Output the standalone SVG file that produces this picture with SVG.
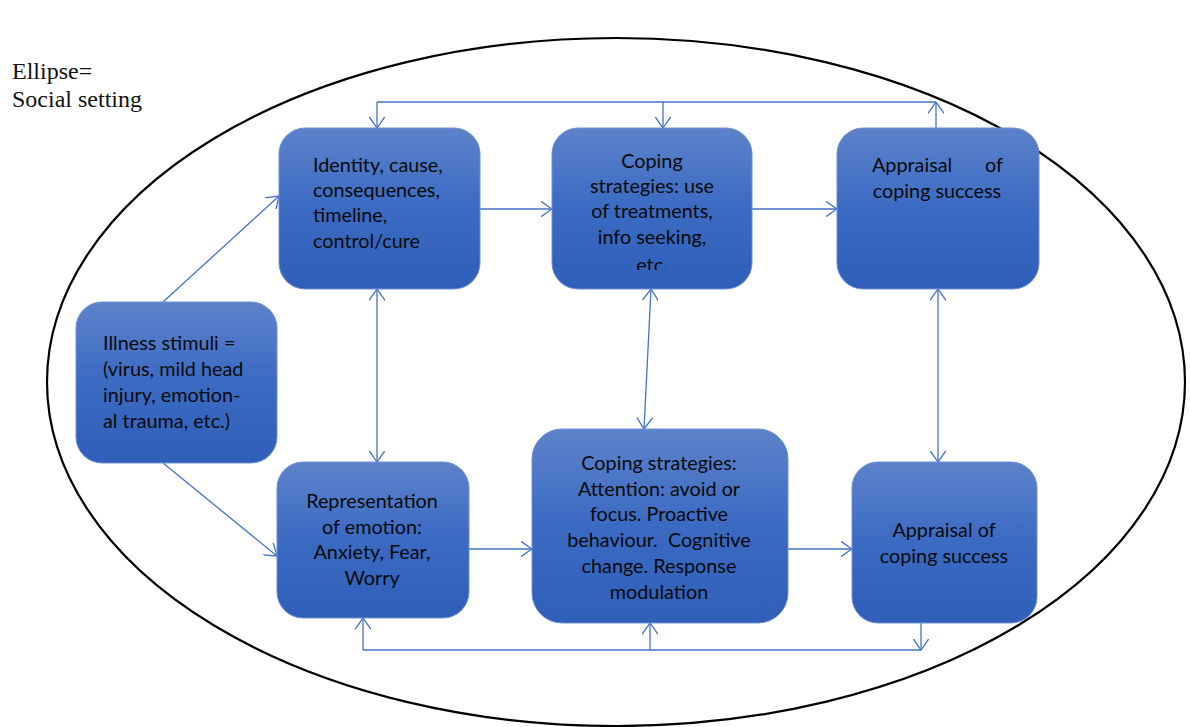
<svg xmlns="http://www.w3.org/2000/svg" width="1190" height="727" viewBox="0 0 1190 727">
<defs>
<linearGradient id="bg" x1="0" y1="0" x2="0" y2="1">
<stop offset="0" stop-color="#5d82ca"/>
<stop offset="0.5" stop-color="#3b6ac3"/>
<stop offset="1" stop-color="#2f5fb8"/>
</linearGradient>
<marker id="ah" viewBox="0 0 12 16" refX="11.5" refY="8" markerWidth="12" markerHeight="16" markerUnits="userSpaceOnUse" orient="auto-start-reverse">
<path d="M0,0 L11.5,8 L0,16" fill="none" stroke="#4472c4" stroke-width="1.3"/>
</marker>
<clipPath id="clip2"><rect x="552" y="128" width="200" height="142"/></clipPath>
</defs>
<style>
.box{fill:url(#bg);stroke:#6f90d2;stroke-width:1}
.t{font-family:Lato,"Open Sans",sans-serif;font-size:19.8px;fill:#0a0a0a}
.c{text-anchor:middle}
.con{fill:none;stroke:#4472c4;stroke-width:1.3}
.lbl{font-family:"Liberation Serif","DejaVu Serif",serif;font-size:24px;fill:#111}
</style>
<rect width="1190" height="727" fill="#ffffff"/>
<ellipse cx="616" cy="382" rx="569" ry="344" fill="none" stroke="#000" stroke-width="2.2"/>
<g id="label">
<text class="lbl" x="12" y="79">Ellipse=</text>
<text class="lbl" x="12" y="107">Social setting</text>
</g>
<g id="connectors">
<path class="con" d="M377,102 H936"/>
<path class="con" d="M377,102 V128" marker-end="url(#ah)"/>
<path class="con" d="M663,102 V128" marker-end="url(#ah)"/>
<path class="con" d="M936,128 V102" marker-end="url(#ah)"/>
<path class="con" d="M480,209 H552" marker-end="url(#ah)"/>
<path class="con" d="M752,209 H837" marker-end="url(#ah)"/>
<path class="con" d="M163,302 L279,196" marker-end="url(#ah)"/>
<path class="con" d="M163,463 L277,556" marker-end="url(#ah)"/>
<path class="con" d="M377,289 V462" marker-start="url(#ah)" marker-end="url(#ah)"/>
<path class="con" d="M651,289 L644,429" marker-start="url(#ah)" marker-end="url(#ah)"/>
<path class="con" d="M938,289 V462" marker-start="url(#ah)" marker-end="url(#ah)"/>
<path class="con" d="M469,549 H532" marker-end="url(#ah)"/>
<path class="con" d="M788,549 H852" marker-end="url(#ah)"/>
<path class="con" d="M363,650 H921"/>
<path class="con" d="M363,650 V618" marker-end="url(#ah)"/>
<path class="con" d="M650,650 V623" marker-end="url(#ah)"/>
<path class="con" d="M921,623 V650" marker-end="url(#ah)"/>
</g>
<g id="identity">
<rect class="box" x="279" y="128" width="201" height="161" rx="26"/>
<text class="t" x="313" y="172">Identity, cause,</text>
<text class="t" x="313" y="197">consequences,</text>
<text class="t" x="313" y="222">timeline,</text>
<text class="t" x="313" y="248">control/cure</text>
</g>
<g id="coping-top">
<rect class="box" x="552" y="128" width="200" height="161" rx="26"/>
<g clip-path="url(#clip2)">
<text class="t c" x="652" y="168">Coping</text>
<text class="t c" x="652" y="193">strategies: use</text>
<text class="t c" x="652" y="218">of treatments,</text>
<text class="t c" x="652" y="244">info seeking,</text>
<text class="t c" x="652" y="272">etc.</text>
</g>
</g>
<g id="appraisal-top">
<rect class="box" x="837" y="128" width="202" height="161" rx="26"/>
<text class="t" x="872" y="172">Appraisal</text>
<text class="t" x="1003" y="172" text-anchor="end">of</text>
<text class="t c" x="937" y="198">coping success</text>
</g>
<g id="illness">
<rect class="box" x="76" y="302" width="201" height="161" rx="26"/>
<text class="t" x="103" y="350">Illness stimuli =</text>
<text class="t" x="103" y="376">(virus, mild head</text>
<text class="t" x="103" y="402">injury, emotion-</text>
<text class="t" x="103" y="428">al trauma, etc.)</text>
</g>
<g id="representation">
<rect class="box" x="277" y="462" width="192" height="156" rx="26"/>
<text class="t c" x="372" y="508">Representation</text>
<text class="t c" x="372" y="534">of emotion:</text>
<text class="t c" x="372" y="559">Anxiety, Fear,</text>
<text class="t c" x="372" y="585">Worry</text>
</g>
<g id="coping-bottom">
<rect class="box" x="532" y="429" width="256" height="194" rx="30"/>
<text class="t c" x="659" y="470">Coping strategies:</text>
<text class="t c" x="659" y="496">Attention: avoid or</text>
<text class="t c" x="659" y="521">focus. Proactive</text>
<text class="t c" x="659" y="547" xml:space="preserve">behaviour.  Cognitive</text>
<text class="t c" x="659" y="573">change. Response</text>
<text class="t c" x="659" y="599">modulation</text>
</g>
<g id="appraisal-bottom">
<rect class="box" x="852" y="462" width="185" height="161" rx="26"/>
<text class="t c" x="944" y="537">Appraisal of</text>
<text class="t c" x="944" y="563">coping success</text>
</g>
</svg>
